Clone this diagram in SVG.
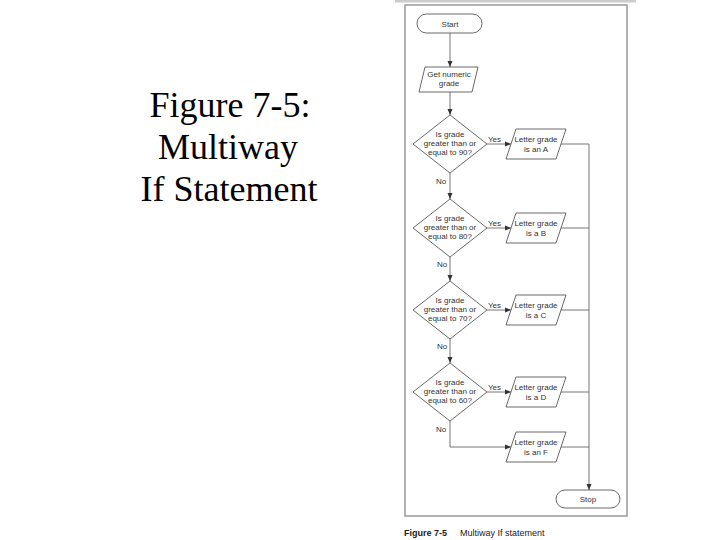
<svg xmlns="http://www.w3.org/2000/svg" width="720" height="540" viewBox="0 0 720 540">
<style>
.t{font-family:"Liberation Sans",Arial,sans-serif;font-size:8px;fill:#333;text-anchor:middle}
.l{font-family:"Liberation Sans",Arial,sans-serif;font-size:8px;fill:#333}
.s{fill:#fff;stroke:#444;stroke-width:0.8}
.c{fill:none;stroke:#666;stroke-width:0.9}
.title{font-family:"Liberation Serif","Times New Roman",serif;font-size:36px;fill:#000;text-anchor:middle}
.cap{font-family:"Liberation Sans",Arial,sans-serif;font-size:9px;fill:#222}
</style>
<defs>
<marker id="ah" viewBox="0 0 6 6" refX="6" refY="3" markerWidth="6" markerHeight="6" orient="auto" markerUnits="userSpaceOnUse">
<path d="M0,0.5 L6,3 L0,5.5 Z" fill="#333"/>
</marker>
</defs>
<rect width="720" height="540" fill="#fff"/>
<g id="title">
<text class="title" x="230" y="117">Figure 7-5:</text>
<text class="title" x="228" y="159">Multiway</text>
<text class="title" x="229" y="201">If Statement</text>
</g>
<rect x="395" y="0" width="241" height="2.5" fill="#ccc"/>
<rect x="405" y="5" width="222" height="511" fill="#fff" stroke="#999" stroke-width="1.5"/>
<g id="connectors">
<line class="c" x1="450" y1="33" x2="450" y2="67" marker-end="url(#ah)"/>
<line class="c" x1="450" y1="92" x2="450" y2="115" marker-end="url(#ah)"/>
<line class="c" x1="450" y1="173" x2="450" y2="199" marker-end="url(#ah)"/>
<line class="c" x1="450" y1="257" x2="450" y2="281" marker-end="url(#ah)"/>
<line class="c" x1="450" y1="339" x2="450" y2="363" marker-end="url(#ah)"/>
<line class="c" x1="487" y1="144" x2="511" y2="144" marker-end="url(#ah)"/>
<line class="c" x1="487" y1="228" x2="511" y2="228" marker-end="url(#ah)"/>
<line class="c" x1="487" y1="310" x2="511" y2="310" marker-end="url(#ah)"/>
<line class="c" x1="487" y1="392" x2="511" y2="392" marker-end="url(#ah)"/>
<polyline class="c" points="450,421 450,447 511,447" marker-end="url(#ah)"/>
<line class="c" x1="561" y1="144" x2="589" y2="144"/>
<line class="c" x1="561" y1="228" x2="589" y2="228"/>
<line class="c" x1="561" y1="310" x2="589" y2="310"/>
<line class="c" x1="561" y1="392" x2="589" y2="392"/>
<line class="c" x1="561" y1="447" x2="589" y2="447"/>
<line class="c" x1="589" y1="144" x2="589" y2="490" marker-end="url(#ah)"/>
<text class="l" x="488" y="142">Yes</text>
<text class="l" x="488" y="226">Yes</text>
<text class="l" x="488" y="308">Yes</text>
<text class="l" x="488" y="390">Yes</text>
<text class="l" x="436" y="184">No</text>
<text class="l" x="437" y="267">No</text>
<text class="l" x="437" y="349">No</text>
<text class="l" x="436" y="432">No</text>
</g>
<g id="start">
<rect class="s" x="417" y="14" width="65" height="19" rx="9.5"/>
<text class="t" x="450" y="26.5">Start</text>
</g>
<g id="input">
<polygon class="s" points="425,67 478,67 472,92 419,92"/>
<text class="t" x="449" y="77">Get numeric</text>
<text class="t" x="449" y="86">grade</text>
</g>
<g id="d90">
<polygon class="s" points="450,115 487,144 450,173 413,144"/>
<text class="t" x="450" y="137">Is grade</text>
<text class="t" x="450" y="146">greater than or</text>
<text class="t" x="450" y="155">equal to 90?</text>
</g>
<g id="d80">
<polygon class="s" points="450,199 487,228 450,257 413,228"/>
<text class="t" x="450" y="221">Is grade</text>
<text class="t" x="450" y="230">greater than or</text>
<text class="t" x="450" y="239">equal to 80?</text>
</g>
<g id="d70">
<polygon class="s" points="450,281 487,310 450,339 413,310"/>
<text class="t" x="450" y="303">Is grade</text>
<text class="t" x="450" y="312">greater than or</text>
<text class="t" x="450" y="321">equal to 70?</text>
</g>
<g id="d60">
<polygon class="s" points="450,363 487,392 450,421 413,392"/>
<text class="t" x="450" y="385">Is grade</text>
<text class="t" x="450" y="394">greater than or</text>
<text class="t" x="450" y="403">equal to 60?</text>
</g>
<g id="gA">
<polygon class="s" points="516,129 566,129 556,159 506,159"/>
<text class="t" x="536" y="142">Letter grade</text>
<text class="t" x="536" y="152">is an A</text>
</g>
<g id="gB">
<polygon class="s" points="516,213 566,213 556,243 506,243"/>
<text class="t" x="536" y="226">Letter grade</text>
<text class="t" x="536" y="236">is a B</text>
</g>
<g id="gC">
<polygon class="s" points="516,295 566,295 556,325 506,325"/>
<text class="t" x="536" y="308">Letter grade</text>
<text class="t" x="536" y="318">is a C</text>
</g>
<g id="gD">
<polygon class="s" points="516,377 566,377 556,407 506,407"/>
<text class="t" x="536" y="390">Letter grade</text>
<text class="t" x="536" y="400">is a D</text>
</g>
<g id="gF">
<polygon class="s" points="516,432 566,432 556,462 506,462"/>
<text class="t" x="536" y="445">Letter grade</text>
<text class="t" x="536" y="455">is an F</text>
</g>
<g id="stop">
<rect class="s" x="556" y="490" width="64" height="18" rx="9"/>
<text class="t" x="588" y="502">Stop</text>
</g>
<g id="caption">
<text class="cap" x="404" y="536"><tspan font-weight="bold">Figure 7-5</tspan><tspan x="460">Multiway If statement</tspan></text>
</g>
</svg>
